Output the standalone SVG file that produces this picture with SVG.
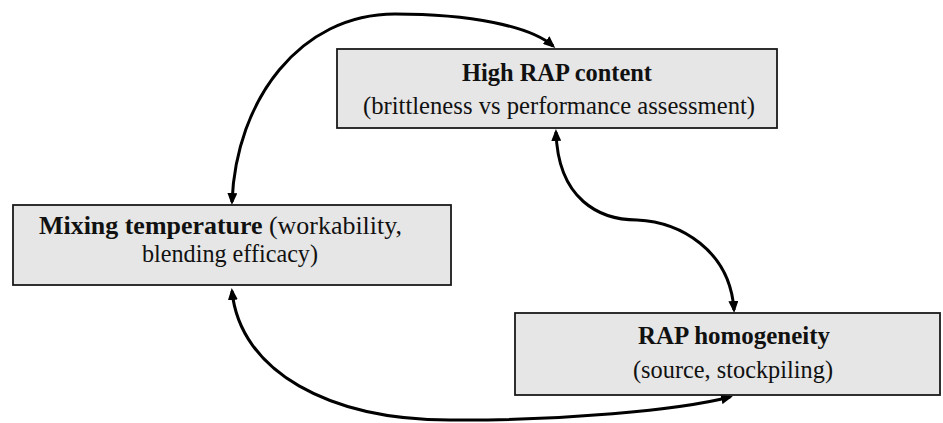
<svg xmlns="http://www.w3.org/2000/svg" width="943" height="423" viewBox="0 0 943 423">
<style>
.box{fill:#e6e6e6;stroke:#1a1a1a;stroke-width:1.8}
.t{font-family:"Liberation Serif","Times New Roman",serif;font-size:26px;fill:#111}
.b{font-weight:bold}
.c{fill:none;stroke:#000;stroke-width:3}
</style>
<defs>
<marker id="ah" markerUnits="userSpaceOnUse" markerWidth="12" markerHeight="10" viewBox="0 0 12 10" refX="9" refY="5" orient="auto-start-reverse">
<path d="M0,0 L12,5 L0,10 z" fill="#000"/>
</marker>
</defs>
<rect width="943" height="423" fill="#fff"/>
<g id="connectors">
<path class="c" d="M232,202 C236,100 300,14 395,14 C470,14 530,26 553,46" marker-start="url(#ah)" marker-end="url(#ah)"/>
<path class="c" d="M556,132 C558,200 600,220 637,220 C680,222 730,250 734,310" marker-start="url(#ah)" marker-end="url(#ah)"/>
<path class="c" d="M232,291 C240,372 330,420 450,420 C560,421 680,410 730,397" marker-start="url(#ah)" marker-end="url(#ah)"/>
</g>
<g id="node-high-rap">
<rect class="box" x="337" y="49" width="440" height="79"/>
<text class="t b" x="557" y="81" text-anchor="middle" textLength="190" lengthAdjust="spacingAndGlyphs">High RAP content</text>
<text class="t" x="559" y="114" text-anchor="middle" textLength="392" lengthAdjust="spacingAndGlyphs">(brittleness vs performance assessment)</text>
</g>
<g id="node-mixing">
<rect class="box" x="13" y="205" width="438" height="80"/>
<text class="t" x="39" y="234" textLength="363" lengthAdjust="spacingAndGlyphs"><tspan class="b">Mixing temperature</tspan> (workability,</text>
<text class="t" x="230" y="262" text-anchor="middle" textLength="176" lengthAdjust="spacingAndGlyphs">blending efficacy)</text>
</g>
<g id="node-homogeneity">
<rect class="box" x="515" y="313" width="425" height="82"/>
<text class="t b" x="734" y="344" text-anchor="middle" textLength="192" lengthAdjust="spacingAndGlyphs">RAP homogeneity</text>
<text class="t" x="733" y="378" text-anchor="middle" textLength="200" lengthAdjust="spacingAndGlyphs">(source, stockpiling)</text>
</g>
</svg>
